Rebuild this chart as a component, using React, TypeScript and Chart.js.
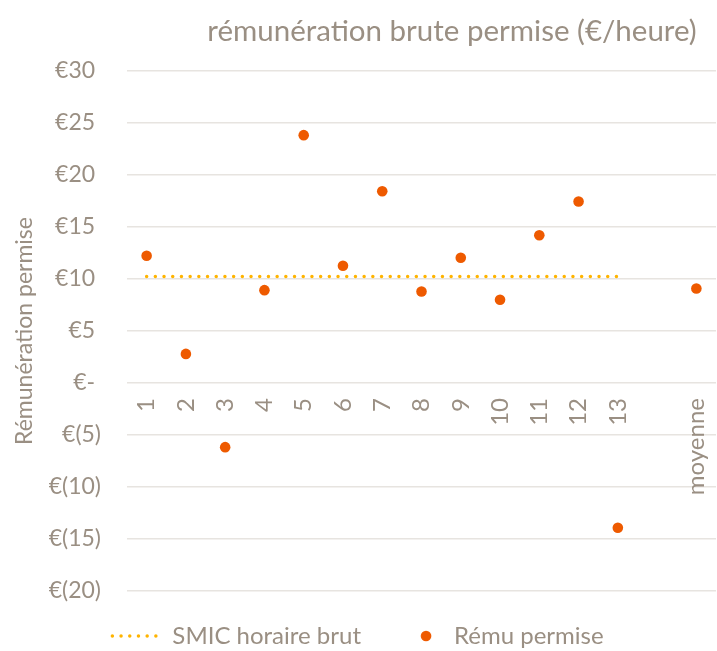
import React, { useEffect, useRef } from "react";
import { Chart, registerables } from "chart.js";

Chart.register(...registerables);

const TITLE = "rémunération brute permise (€/heure)";
const Y_TITLE = "Rémunération permise";
const categories = ["1", "2", "3", "4", "5", "6", "7", "8", "9", "10", "11", "12", "13", "", "moyenne"];
const smicLabel = "SMIC horaire brut";
const smicValues = [10.25, 10.25, 10.25, 10.25, 10.25, 10.25, 10.25, 10.25, 10.25, 10.25, 10.25, 10.25, 10.25, null, null];
const remuLabel = "Rému permise";
const remuValues = [12.23, 2.8, -6.17, 8.93, 23.83, 11.27, 18.44, 8.8, 12.04, 8.0, 14.21, 17.45, -13.92, null, 9.09];
const yMin = -20;
const yMax = 30;
const yStep = 5;

const TEXT = "#9A8F83";
const GRID = "#E7E4E0";
const SMIC_COLOR = "#FFB400";
const REMU_COLOR = "#EE5A00";
const FONT = "Lato";
const DOT_R = 5.3;
const SMIC_DASH = [0, 8.7];
const SMIC_WIDTH = 3.5;

const fmtEuro = (v: number) => (v === 0 ? "€- " : v < 0 ? `€(${-v})` : `€${v} `);

const titlePlugin = {
  id: "excelTitle",
  afterDraw(chart: any) {
    const ctx = chart.ctx;
    ctx.save();
    ctx.font = `29.5px ${FONT}`;
    ctx.fillStyle = TEXT;
    ctx.textAlign = "center";
    ctx.textBaseline = "middle";
    ctx.fillText(TITLE, 452, 31);
    ctx.restore();
  },
};

function makeDotIcon(): HTMLCanvasElement {
  const c = document.createElement("canvas");
  c.width = 28;
  c.height = 12;
  const g = c.getContext("2d")!;
  g.fillStyle = REMU_COLOR;
  g.beginPath();
  g.arc(22, 6, DOT_R, 0, Math.PI * 2);
  g.fill();
  return c;
}

export default function App() {
  const ref = useRef<HTMLCanvasElement | null>(null);
  useEffect(() => {
    if (!ref.current) return;
    const dotIcon = makeDotIcon();
    const chart = new Chart(ref.current, {
      type: "line",
      data: {
        labels: categories,
        datasets: [
          {
            label: smicLabel,
            data: smicValues,
            borderColor: SMIC_COLOR,
            backgroundColor: SMIC_COLOR,
            borderWidth: SMIC_WIDTH,
            borderDash: SMIC_DASH,
            borderCapStyle: "round",
            pointRadius: 0,
            pointStyle: "line",
            spanGaps: false,
            fill: false,
          },
          {
            label: remuLabel,
            data: remuValues,
            showLine: false,
            borderColor: REMU_COLOR,
            backgroundColor: REMU_COLOR,
            borderWidth: 0,
            pointRadius: DOT_R,
            pointStyle: "circle",
            pointBorderWidth: 0,
          },
        ],
      },
      options: {
        animation: false,
        responsive: false,
        layout: { autoPadding: false, padding: { top: 71, bottom: -7, left: 0, right: 1 } },
        plugins: {
          title: { display: false },
          tooltip: { enabled: false },
          legend: {
            position: "bottom",
            labels: {
              usePointStyle: true,
              pointStyleWidth: 48,
              boxHeight: 7,
              padding: 33,
              color: TEXT,
              font: { family: FONT, size: 24 },
              generateLabels: (ch: any) => {
                const items = Chart.defaults.plugins.legend.labels.generateLabels(ch);
                return items.map((it: any, i: number) =>
                  i === 1
                    ? { ...it, pointStyle: dotIcon }
                    : {
                        ...it,
                        pointStyle: "line",
                        lineDash: SMIC_DASH,
                        lineCap: "round",
                        lineWidth: SMIC_WIDTH,
                        strokeStyle: SMIC_COLOR,
                      }
                );
              },
            },
          },
        },
        scales: {
          x: {
            type: "category",
            offset: true,
            position: { y: 0 },
            grid: { display: false, drawTicks: false },
            border: { display: false },
            ticks: {
              autoSkip: false,
              minRotation: 90,
              maxRotation: 90,
              padding: 15,
              color: TEXT,
              font: { family: FONT, size: 24 },
            },
            afterFit: (scale: any) => {
              scale.paddingLeft = 0;
              scale.paddingRight = 0;
            },
          },
          y: {
            min: yMin,
            max: yMax,
            grid: { color: GRID, lineWidth: 1.5, drawTicks: false },
            border: { display: false },
            ticks: {
              stepSize: yStep,
              padding: 26,
              color: TEXT,
              font: { family: FONT, size: 23 },
              callback: (v: any) => fmtEuro(Number(v)),
            },
            title: {
              display: true,
              text: Y_TITLE,
              color: TEXT,
              font: { family: FONT, size: 23 },
              padding: { top: 11, bottom: 4 },
            },
            afterFit: (scale: any) => {
              scale.width = 127;
            },
          },
        },
      },
      plugins: [titlePlugin],
    });
    return () => chart.destroy();
  }, []);
  return (
    <div style={{ position: "absolute", left: 0, top: 0, width: 717, height: 651, background: "#fff" }}>
      <canvas ref={ref} width={717} height={651} />
    </div>
  );
}
